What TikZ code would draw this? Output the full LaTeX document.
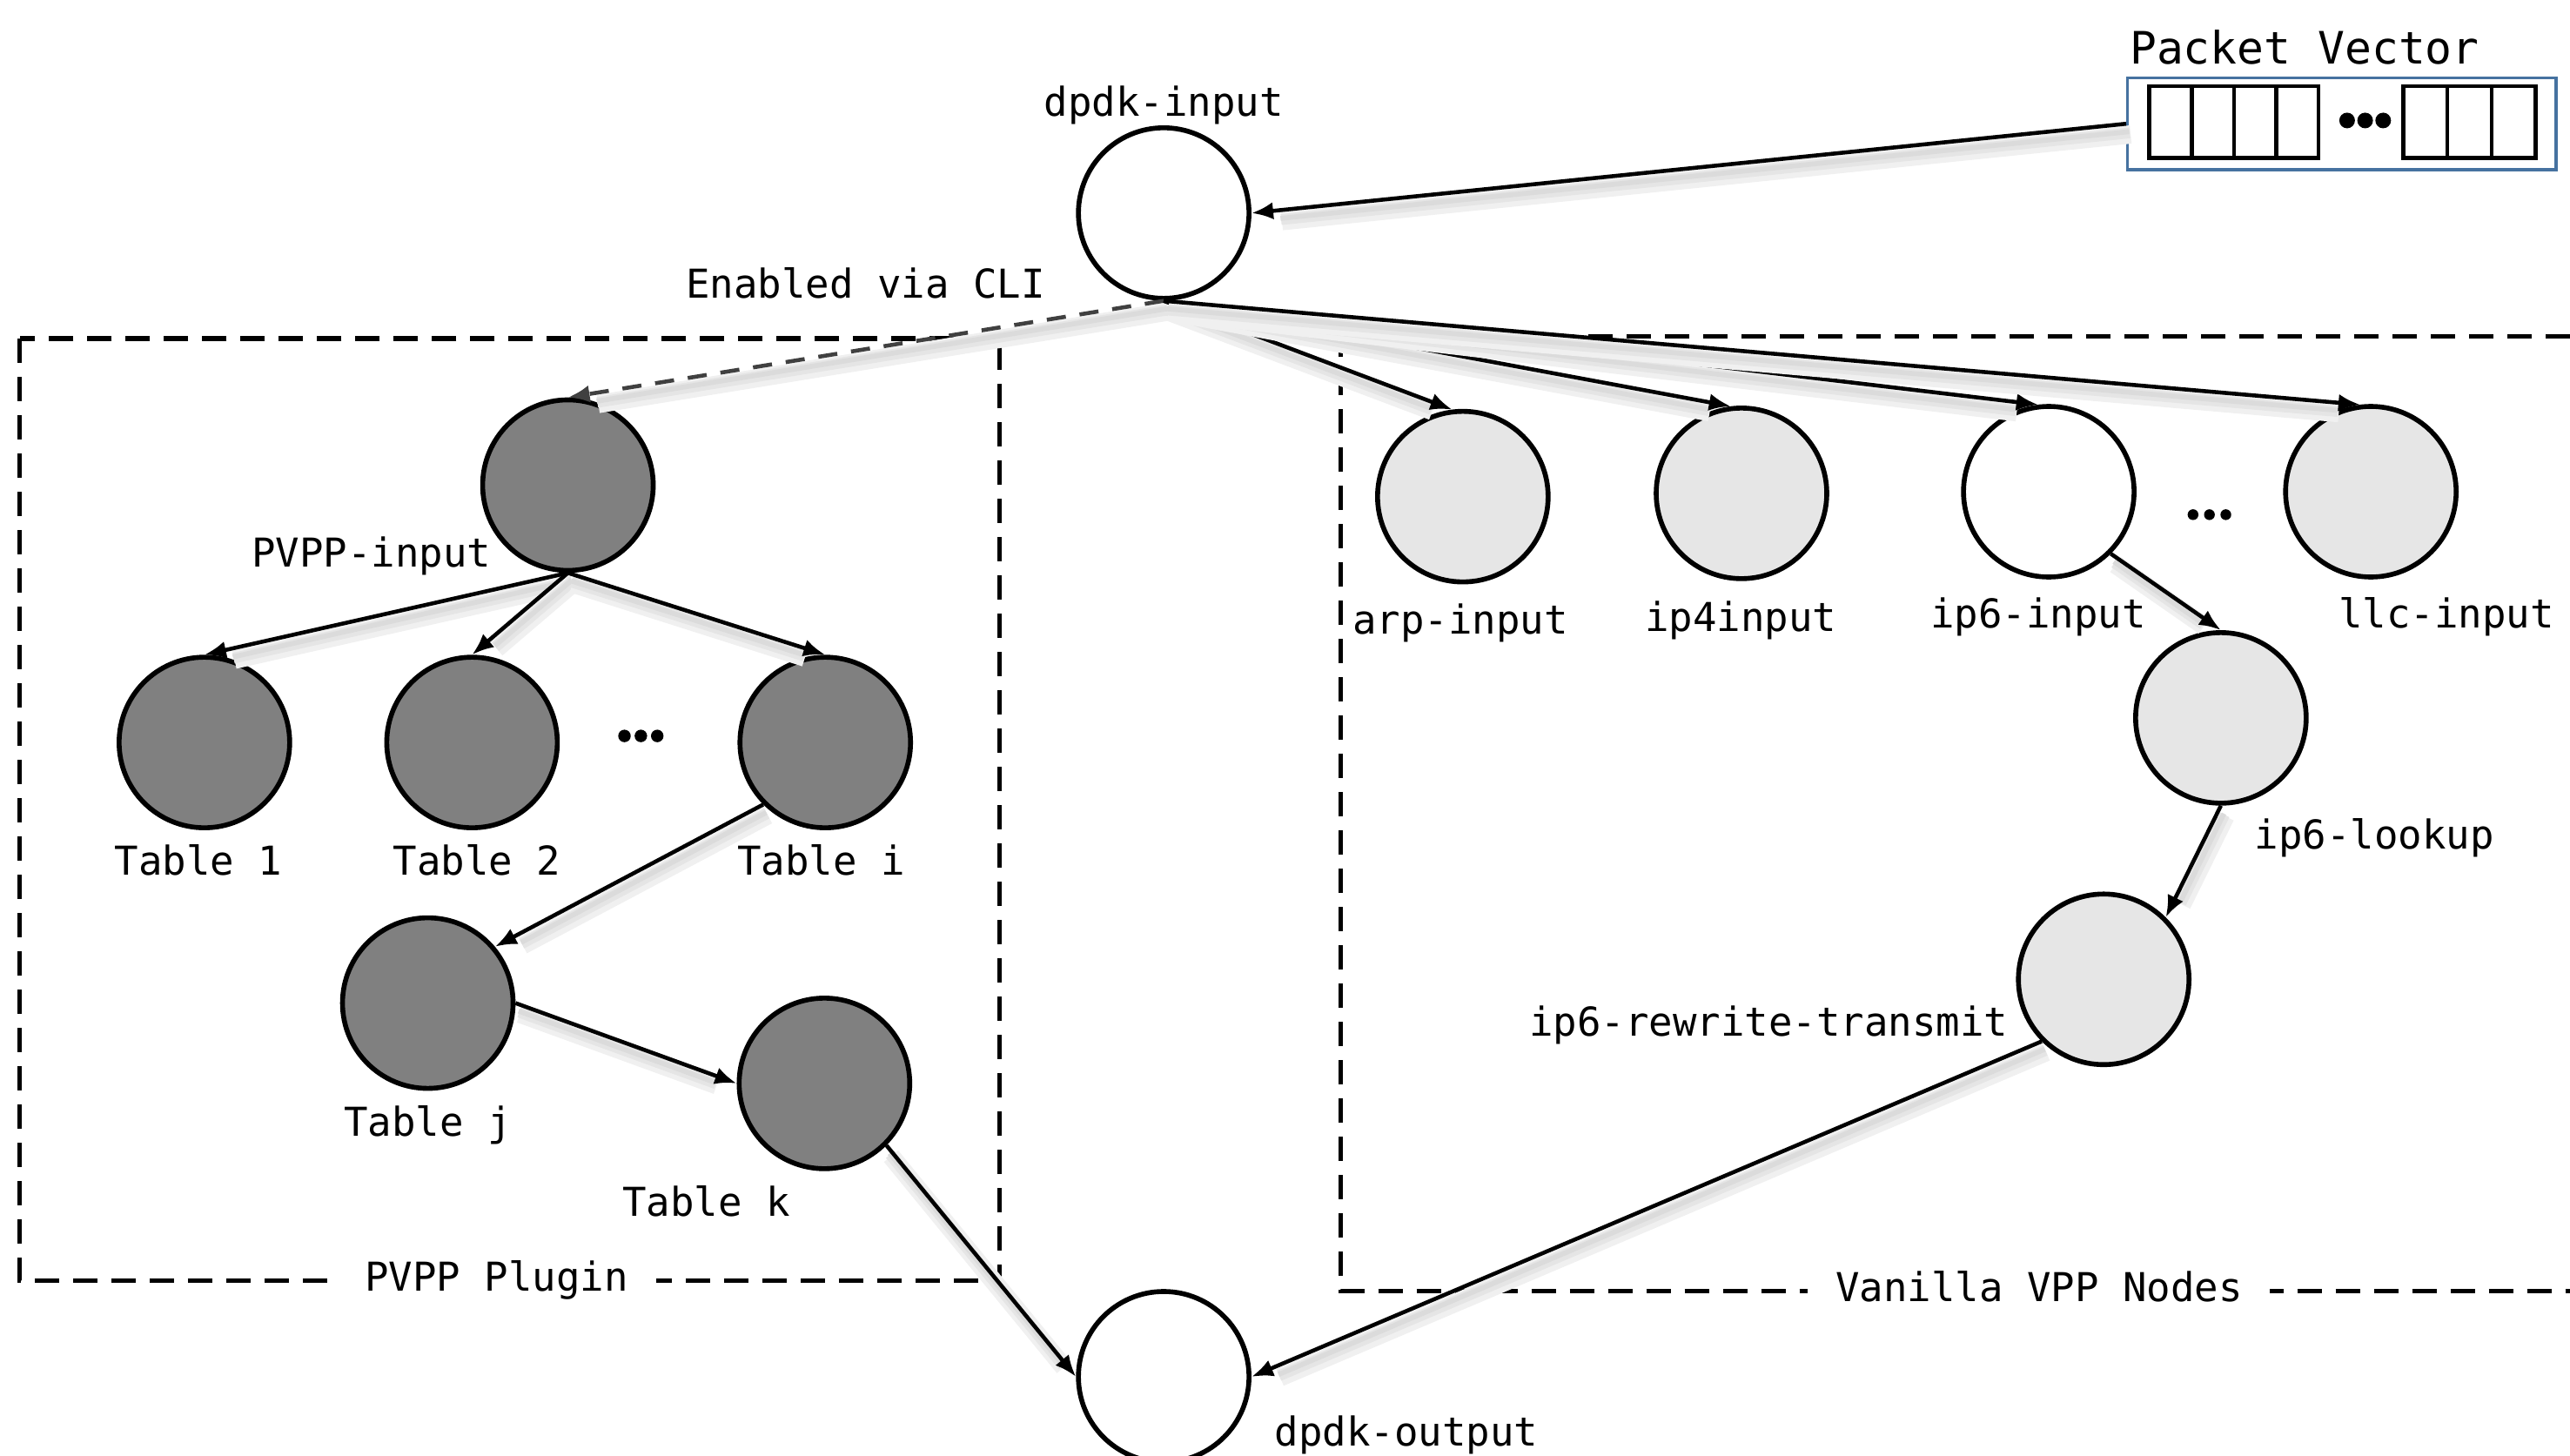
\documentclass[tikz,border=0pt]{standalone}
\usepackage{fontspec}
\setmainfont{DejaVu Sans Mono}
\usetikzlibrary{positioning, arrows.meta, calc}

\definecolor{tablegray}{RGB}{128,128,128}
\definecolor{vppgray}{RGB}{230,230,230}
\definecolor{vecblue}{RGB}{70,114,160}
\definecolor{cligray}{RGB}{64,64,64}

\begin{document}
\begin{tikzpicture}[x=0.18833mm, y=-0.18833mm,
		every node/.style={font=\fontsize{13}{15}\selectfont},
		graphnode/.style={draw, circle, line width=1.6pt, minimum size=19.6mm, inner sep=0pt},
		tablenode/.style={graphnode, fill=tablegray},
		vppnode/.style={graphnode, fill=vppgray},
		ionode/.style={graphnode, fill=white},
		txt/.style={anchor=base, inner sep=0pt},
		soft shade/.style={
			preaction={draw=black!6, line width=6pt, -, shorten >=3mm, transform canvas={xshift=1.5pt, yshift=-3.5pt}},
			preaction={draw=black!10, line width=3.5pt, -, shorten >=3mm, transform canvas={xshift=1.2pt, yshift=-3pt}},
			preaction={draw=black!14, line width=1.6pt, -, shorten >=3mm, transform canvas={xshift=1pt, yshift=-2.6pt}}},
		flow/.style={soft shade, line width=1.3pt, -{Latex[length=2.5mm, width=2mm]}},
		cli/.style={flow, draw=cligray, dash pattern=on 2.2mm off 1.6mm},
		group/.style={line width=1.5pt, dash pattern=on 2.8mm off 1.6mm},
		grouplabel/.style={fill=white, inner xsep=9pt, inner ysep=2pt}]

	\useasboundingbox (0,0) rectangle (1568,888);

	% Plugin and vanilla groups
	\draw[group] (12,206.6) rectangle (610,781.5);
	\draw[group] (1568,205.3) -- (818,205.3) -- (818,787.6) -- (1568,787.6);
	\node[grouplabel] (pluginlabel) at (303,781) {PVPP Plugin};
	\node[grouplabel] (vanillalabel) at (1244,785) {Vanilla VPP Nodes};

	% Packet vector
	\node[draw=vecblue, line width=0.9pt, minimum width=49.25mm, minimum height=10.55mm, inner sep=0pt] (pv) at (1428.75,75.5) {};
	\node[txt, font=\fontsize{14.6}{16}\selectfont, anchor=base west] (pvlabel) at (1299,39) {Packet Vector};
	\foreach \x in {1311.4,1337.2,1363,1388.8}
		\draw[line width=1.3pt] (\x,52.5) rectangle ++(25.8,44);
	\foreach \x in {1466.3,1493.2,1520.1}
		\draw[line width=1.3pt] (\x,52.5) rectangle ++(26.9,44);
	\foreach \x in {1432,1443,1454}
		\fill (\x,73.5) circle (0.9mm);

	% Input and output
	\node[ionode] (din) at (710,130) {};
	\node[txt] (dinlabel) at (710,70.7) {dpdk-input};
	\node[ionode] (dout) at (710,840) {};
	\node[txt] (doutlabel) at (858,882) {dpdk-output};
	\node[txt] (clilabel) at (528,182) {Enabled via CLI};

	% PVPP tables
	\node[tablenode] (pvpp) at (346.5,296) {};
	\node[txt] (pvpplabel) at (226.5,346) {PVPP-input};
	\node[tablenode] (t1) at (124.7,453) {};
	\node[txt] (t1label) at (121,534) {Table 1};
	\node[tablenode] (t2) at (288,453) {};
	\node[txt] (t2label) at (291,534) {Table 2};
	\node[tablenode] (ti) at (503.5,453) {};
	\node[txt] (tilabel) at (501,534) {Table i};
	\node[tablenode] (tj) at (261,612) {};
	\node[txt] (tjlabel) at (261,693) {Table j};
	\node[tablenode] (tk) at (503,661) {};
	\node[txt] (tklabel) at (431,742) {Table k};
	\foreach \x in {381,391,401}
		\fill (\x,449) circle (0.72mm);

	% Vanilla VPP graph
	\node[vppnode] (arp) at (892.5,303) {};
	\node[txt] (arplabel) at (891,387) {arp-input};
	\node[vppnode] (ipf) at (1062.5,301) {};
	\node[txt] (ipflabel) at (1062,385) {ip4input};
	\node[ionode] (ips) at (1250,300) {};
	\node[txt] (ipslabel) at (1243.6,383) {ip6-input};
	\node[vppnode] (llc) at (1446.5,300) {};
	\node[txt] (llclabel) at (1492.7,383) {llc-input};
	\node[vppnode] (lookup) at (1355,438) {};
	\node[txt] (lookuplabel) at (1448.7,518) {ip6-lookup};
	\node[vppnode] (rw) at (1283.5,597.5) {};
	\node[txt] (rwlabel) at (1079,632) {ip6-rewrite-transmit};
	\foreach \x in {1338,1348,1358}
		\fill (\x,314) circle (0.62mm);

	% Edges
	\draw[flow] (pv.west) -- (din.east);
	\draw[cli] (din.south) -- (pvpp.north);
	\foreach \n in {arp, ipf, ips, llc}
		\draw[flow] (din.south) -- (\n.97);
	\foreach \n in {t1, t2, ti}
		\draw[flow] (pvpp.south) -- (\n.north);
	\draw[flow] (ti.225) -- (tj.40);
	\draw[flow] (tj.east) -- (tk.west);
	\draw[flow] (tk.-45) -- (dout.west);
	\draw[flow] (ips.-45) -- (lookup.north);
	\draw[flow] (lookup.south) -- (rw.45);
	\draw[flow] (rw.225) -- (dout.east);

\end{tikzpicture}
\end{document}
